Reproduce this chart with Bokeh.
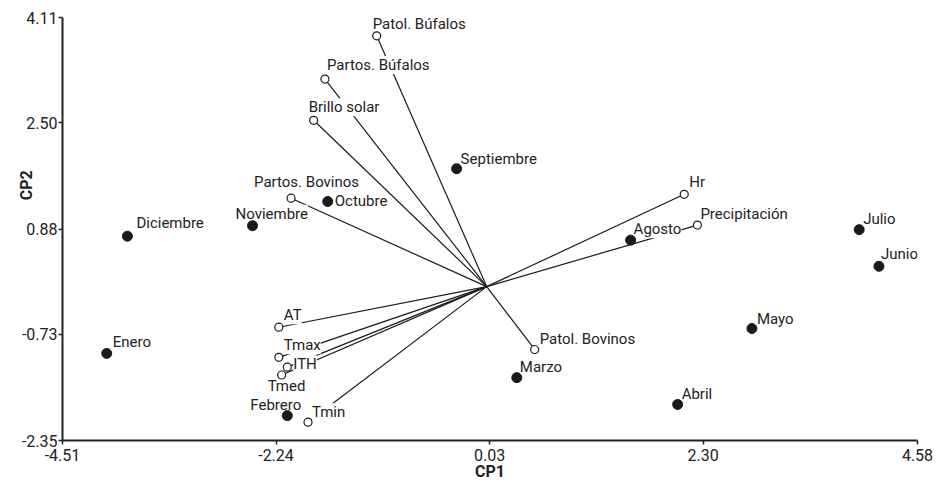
from bokeh.plotting import figure
from bokeh.models import Range1d, FixedTicker, ColumnDataSource, LabelSet
from bokeh.core.properties import value
from bokeh.embed import file_html
from bokeh.resources import INLINE

# ---- data ----
months = ["Enero", "Febrero", "Marzo", "Abril", "Mayo", "Junio",
          "Julio", "Agosto", "Septiembre", "Octubre", "Noviembre", "Diciembre"]
month_cp1 = [-4.04, -2.12, 0.32, 2.03, 2.82, 4.17, 3.96, 1.53, -0.32, -1.69, -2.49, -3.82]
month_cp2 = [-1.02, -1.97, -1.39, -1.80, -0.64, 0.31, 0.87, 0.71, 1.80, 1.30, 0.93, 0.77]

variables = ["Patol. Búfalos", "Partos. Búfalos", "Brillo solar", "Partos. Bovinos",
             "Hr", "Precipitación", "Patol. Bovinos", "AT", "Tmax", "ITH", "Tmed", "Tmin"]
var_cp1 = [-1.17, -1.72, -1.84, -2.08, 2.10, 2.24, 0.51, -2.21, -2.21, -2.12, -2.18, -1.90]
var_cp2 = [3.83, 3.17, 2.54, 1.35, 1.41, 0.94, -0.96, -0.62, -1.08, -1.23, -1.35, -2.07]

x_ticks = [-4.51, -2.24, 0.03, 2.30, 4.58]
x_tick_labels = ["-4.51", "-2.24", "0.03", "2.30", "4.58"]
y_ticks = [-2.35, -0.73, 0.88, 2.50, 4.11]
y_tick_labels = ["-2.35", "-0.73", "0.88", "2.50", "4.11"]

# ---- label placement (screen px: dx to left edge, dy upward) ----
month_offsets = {
    "Enero": (6, 11), "Febrero": (-37, 11), "Marzo": (3, 11), "Abril": (4, 10),
    "Mayo": (5, 10), "Junio": (2, 12), "Julio": (4, 11), "Agosto": (3, 11),
    "Septiembre": (4, 10), "Octubre": (7, 0), "Noviembre": (-17, 12), "Diciembre": (9, 13),
}
var_offsets = {
    "Patol. Búfalos": (-4, 12), "Partos. Búfalos": (2, 14), "Brillo solar": (-5, 13),
    "Partos. Bovinos": (-37, 16), "Hr": (5, 12), "Precipitación": (3, 11),
    "Patol. Bovinos": (5, 10), "AT": (5, 12), "Tmax": (5, 12), "ITH": (6, 3),
    "Tmed": (-14, -11), "Tmin": (4, 10),
}

FONT = "Roboto"
FS = "16px"
LFS = "15px"

p = figure(width=938, height=485, output_backend="svg", toolbar_location=None,
           x_range=Range1d(-4.51, 4.58), y_range=Range1d(-2.35, 4.11),
           min_border_left=62, min_border_right=21, min_border_top=17, min_border_bottom=45)
p.outline_line_color = None
p.xgrid.visible = False
p.ygrid.visible = False
p.background_fill_color = "white"

for ax, ticks, labels in ((p.xaxis[0], x_ticks, x_tick_labels), (p.yaxis[0], y_ticks, y_tick_labels)):
    ax.ticker = FixedTicker(ticks=ticks, minor_ticks=[])
    ax.major_label_overrides = {t: l for t, l in zip(ticks, labels)}
    ax.axis_line_color = "#222222"
    ax.axis_line_width = 2
    ax.major_tick_line_color = "#222222"
    ax.major_tick_line_width = 1.5
    ax.major_tick_in = 0
    ax.major_tick_out = 4
    ax.minor_tick_line_color = None
    ax.major_label_text_font = FONT
    ax.major_label_text_font_size = FS
    ax.major_label_text_color = "#222222"
    ax.axis_label_text_font = FONT
    ax.axis_label_text_font_size = FS
    ax.axis_label_text_font_style = "bold"
    ax.axis_label_text_color = "#222222"

p.xaxis.axis_label = "CP1"
# leading non-breaking spaces lift the vertical title above the frame centre, as in the reference
p.yaxis.axis_label = "\u00a0" * 22 + "CP2"
p.xaxis[0].major_label_standoff = 4
p.xaxis[0].axis_label_standoff = -2
p.yaxis[0].major_label_standoff = 1
p.yaxis[0].axis_label_standoff = -17

# vectors from origin
p.segment(x0=[0.0] * len(variables), y0=[0.0] * len(variables), x1=var_cp1, y1=var_cp2,
          line_color="#1a1a1a", line_width=1.2)

var_src = ColumnDataSource(dict(
    x=var_cp1, y=var_cp2, name=variables,
    dx=[var_offsets[v][0] for v in variables], dy=[var_offsets[v][1] for v in variables]))
month_src = ColumnDataSource(dict(
    x=month_cp1, y=month_cp2, name=months,
    dx=[month_offsets[m][0] for m in months], dy=[month_offsets[m][1] for m in months]))

for src in (var_src, month_src):
    lbl = LabelSet(x="x", y="y", text="name", source=src, x_offset="dx", y_offset="dy",
                   text_font=value(FONT), text_font_size=value(LFS), text_color="#222222",
                   text_align="left", text_baseline="middle",
                   background_fill_color="white", background_fill_alpha=1.0)
    p.add_layout(lbl)

r1 = p.scatter(x="x", y="y", source=var_src, size=8, fill_color="white",
               line_color="#1a1a1a", line_width=1.2)
r2 = p.scatter(x="x", y="y", source=month_src, size=10, fill_color="#1a1a1a",
               line_color="#1a1a1a")
r1.level = "overlay"
r2.level = "overlay"

open("out.html", "w").write(file_html(p, INLINE))
